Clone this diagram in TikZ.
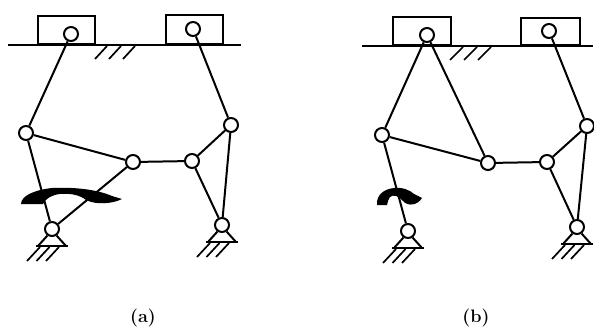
\documentclass[tikz,border=0pt]{standalone}
\usepackage{amsmath}
\usepackage{tikz}

\begin{document}
\begin{tikzpicture}[
x=1pt,y=-1pt,
line width=2pt,
joint/.style={
  draw,
  circle,
  fill=white,
  inner sep=0pt,
  minimum size=14pt
  },
slider/.style={
  draw,
  line width=1.6pt,
  anchor=south west,
  inner sep=0pt
  },
turnarrow/.style={
  fill=black,
  draw=none
  },
caption/.style={
  font=\fontsize{18}{20}\selectfont\bfseries
  }
]
\useasboundingbox (0,0) rectangle (594,329);
% rotation marks
\path[turnarrow] (21,204) .. controls (21,196) and (34,190) .. (52,188)
	.. controls (72,187) and (96,189) .. (112,196) -- (122,199)
	.. controls (112,204) and (96,205) .. (86,200)
	.. controls (80,195) and (70,193) .. (60,194)
	.. controls (52,195) and (46,198) .. (43,204) -- cycle;
\path[turnarrow] (377,205) .. controls (376,195) and (384,189) .. (394,188)
	.. controls (402,187) and (410,190) .. (414,194) -- (422,198)
	.. controls (418,205) and (408,207) .. (403,201)
	.. controls (399,196) and (393,194) .. (390,197)
	.. controls (388,199) and (388,202) .. (387,205) -- cycle;
% guides and sliders
\coordinate (gl) at (8,45);
\coordinate (gr) at (241,45);
\coordinate (hl) at (362,46);
\coordinate (hr) at (593,46);
\node[slider,minimum width=57pt,minimum height=28pt] (sa) at (37,45) {};
\node[slider,minimum width=57pt,minimum height=29pt] (ta) at (165,45) {};
\node[slider,minimum width=58pt,minimum height=28pt] (sb) at (392,46) {};
\node[slider,minimum width=59pt,minimum height=27pt] (tb) at (520,46) {};
\draw (gl) -- (gr);
\draw (hl) -- (hr);
\foreach \X in {0,14,28}{
  \draw[line width=1.7pt] (95+\X,59) -- (107+\X,46);
  \draw[line width=1.7pt] (450+\X,60) -- (463+\X,47);
}
% joints
\foreach \Name/\X/\Y in {pa/71/34,qa/193/29,aa/26/133,ba/133/162,ca/192/161,da/231/125,ea/52/229,fa/222/225,
	pb/427/35,qb/549/31,ab/382/135,bb/488/163,cb/547/162,db/587/126,eb/408/231,fb/577/227}
  \node[joint] (\Name) at (\X,\Y) {};
% links
\draw (pa) -- (aa);
\draw (aa) -- (ba);
\draw (aa) -- (ea);
\draw (ba) -- (ea);
\draw (ba) -- (ca);
\draw (ca) -- (da);
\draw (ca) -- (fa);
\draw (da) -- (fa);
\draw (da) -- (qa);
\draw (pb) -- (ab);
\draw (pb) -- (bb);
\draw (ab) -- (bb);
\draw (ab) -- (eb);
\draw (bb) -- (cb);
\draw (cb) -- (db);
\draw (cb) -- (fb);
\draw (db) -- (fb);
\draw (db) -- (qb);
% fixed supports
\foreach \Name in {ea,fa,eb,fb}{
  \draw ([shift={(-14,17)}]\Name.center) -- (\Name.-125);
  \draw ([shift={(14,17)}]\Name.center) -- (\Name.-55);
  \draw ([shift={(-16,17)}]\Name.center) -- ([shift={(16,17)}]\Name.center);
  \foreach \X in {0,9.5,19}
    \draw[line width=1.7pt] ([shift={(-25+\X,32)}]\Name.center) -- ([shift={(-12+\X,18)}]\Name.center);
}
\node[caption] (capa) at (143,318) {(a)};
\node[caption] (capb) at (476,318) {(b)};
\end{tikzpicture}
\end{document}
